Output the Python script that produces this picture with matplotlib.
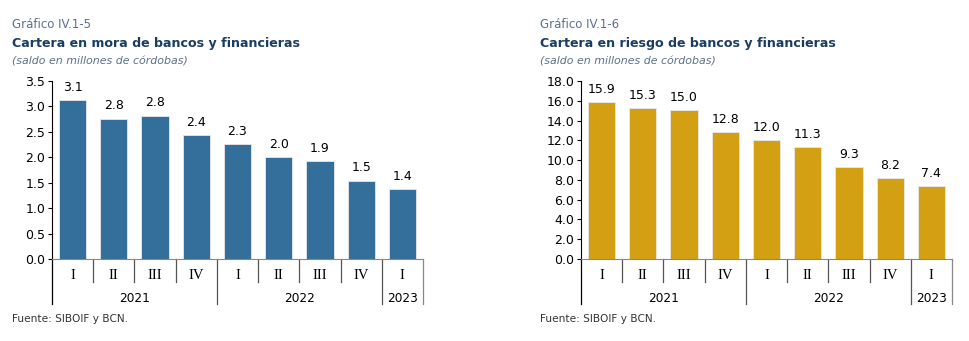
import numpy as np
import matplotlib.pyplot as plt
from matplotlib.transforms import blended_transform_factory

# Data
quarters = ['I', 'II', 'III', 'IV', 'I', 'II', 'III', 'IV', 'I']
years = ['2021', '2022', '2023']
year_spans = [(0, 4), (4, 8), (8, 9)]

mora_values = [3.12, 2.76, 2.82, 2.43, 2.26, 2.00, 1.92, 1.54, 1.37]
riesgo_values = [15.9, 15.26, 15.02, 12.8, 12.0, 11.3, 9.3, 8.2, 7.4]

W, H = 970, 341
fig = plt.figure(figsize=(W / 100, H / 100), dpi=100)

title_color = '#1c3d63'
sub_color = '#5b708a'
sep_color = '#555555'


def px_axes(x0, x1, ytop, ybot):
    return fig.add_axes([x0 / W, (H - ybot) / H, (x1 - x0) / W, (ybot - ytop) / H])


def draw_chart(ax, values, color, ymax, step, x_text, num, title):
    x = np.arange(len(values))
    ax.bar(x, values, width=0.66, color=color, edgecolor='#e8e8e8', linewidth=0.6, zorder=2)
    for xi, v in zip(x, values):
        ax.text(xi, v + ymax * 0.035, f'{v:.1f}', ha='center', va='bottom',
                fontsize=9, color='black')
    ax.set_xlim(-0.5, len(values) - 0.5)
    ax.set_ylim(0, ymax)
    ticks = np.arange(0, ymax + step / 2, step)
    ax.set_yticks(ticks)
    ax.set_yticklabels([f'{t:.1f}' for t in ticks])
    ax.tick_params(axis='y', labelsize=9, length=3, width=0.8, pad=2)
    ax.set_xticks([])
    ax.spines['top'].set_visible(False)
    ax.spines['right'].set_visible(False)
    ax.spines['left'].set_color('black')
    ax.spines['bottom'].set_color('#888888')

    tr = blended_transform_factory(ax.transData, ax.transAxes)
    # quarter / year separators below the axis
    for k in range(1, len(values)):
        long_sep = k in (4, 8)
        ax.plot([k - 0.5, k - 0.5], [0, -0.25 if long_sep else -0.13], color=sep_color,
                lw=0.9, transform=tr, clip_on=False)
    ax.plot([-0.5, -0.5], [0, -0.25], color='black', lw=0.9, transform=tr, clip_on=False)
    ax.plot([len(values) - 0.5] * 2, [0, -0.25], color='#888888', lw=0.9, transform=tr, clip_on=False)
    for xi, q in zip(x, quarters):
        ax.text(xi, -0.09, q, ha='center', va='center', fontsize=10.5,
                family='Liberation Serif', transform=tr)
    for yr, (a, b) in zip(years, year_spans):
        ax.text((a + b - 1) / 2, -0.22, yr, ha='center', va='center', fontsize=8.7, transform=tr)

    fig.text(x_text / W, 1 - 24 / H, num, fontsize=8.5, color=sub_color,
             family='DejaVu Sans', va='center')
    fig.text(x_text / W, 1 - 43 / H, title, fontsize=9.1, color=title_color,
             family='DejaVu Sans', weight='bold', va='center')
    fig.text(x_text / W, 1 - 62 / H, '(saldo en millones de córdobas)', fontsize=7.9,
             color=sub_color, family='DejaVu Sans', style='italic', va='center')
    fig.text(x_text / W, 1 - 319 / H, 'Fuente: SIBOIF y BCN.', fontsize=7.6,
             color='#333333', family='DejaVu Sans', va='center')


ax1 = px_axes(52, 423, 81, 259)
draw_chart(ax1, mora_values, '#346f9b', 3.5, 0.5, 12, 'Gráfico IV.1-5',
           'Cartera en mora de bancos y financieras')

ax2 = px_axes(581, 952, 81, 259)
draw_chart(ax2, riesgo_values, '#d4a013', 18.0, 2.0, 540, 'Gráfico IV.1-6',
           'Cartera en riesgo de bancos y financieras')

plt.savefig('out.png', dpi=100)
